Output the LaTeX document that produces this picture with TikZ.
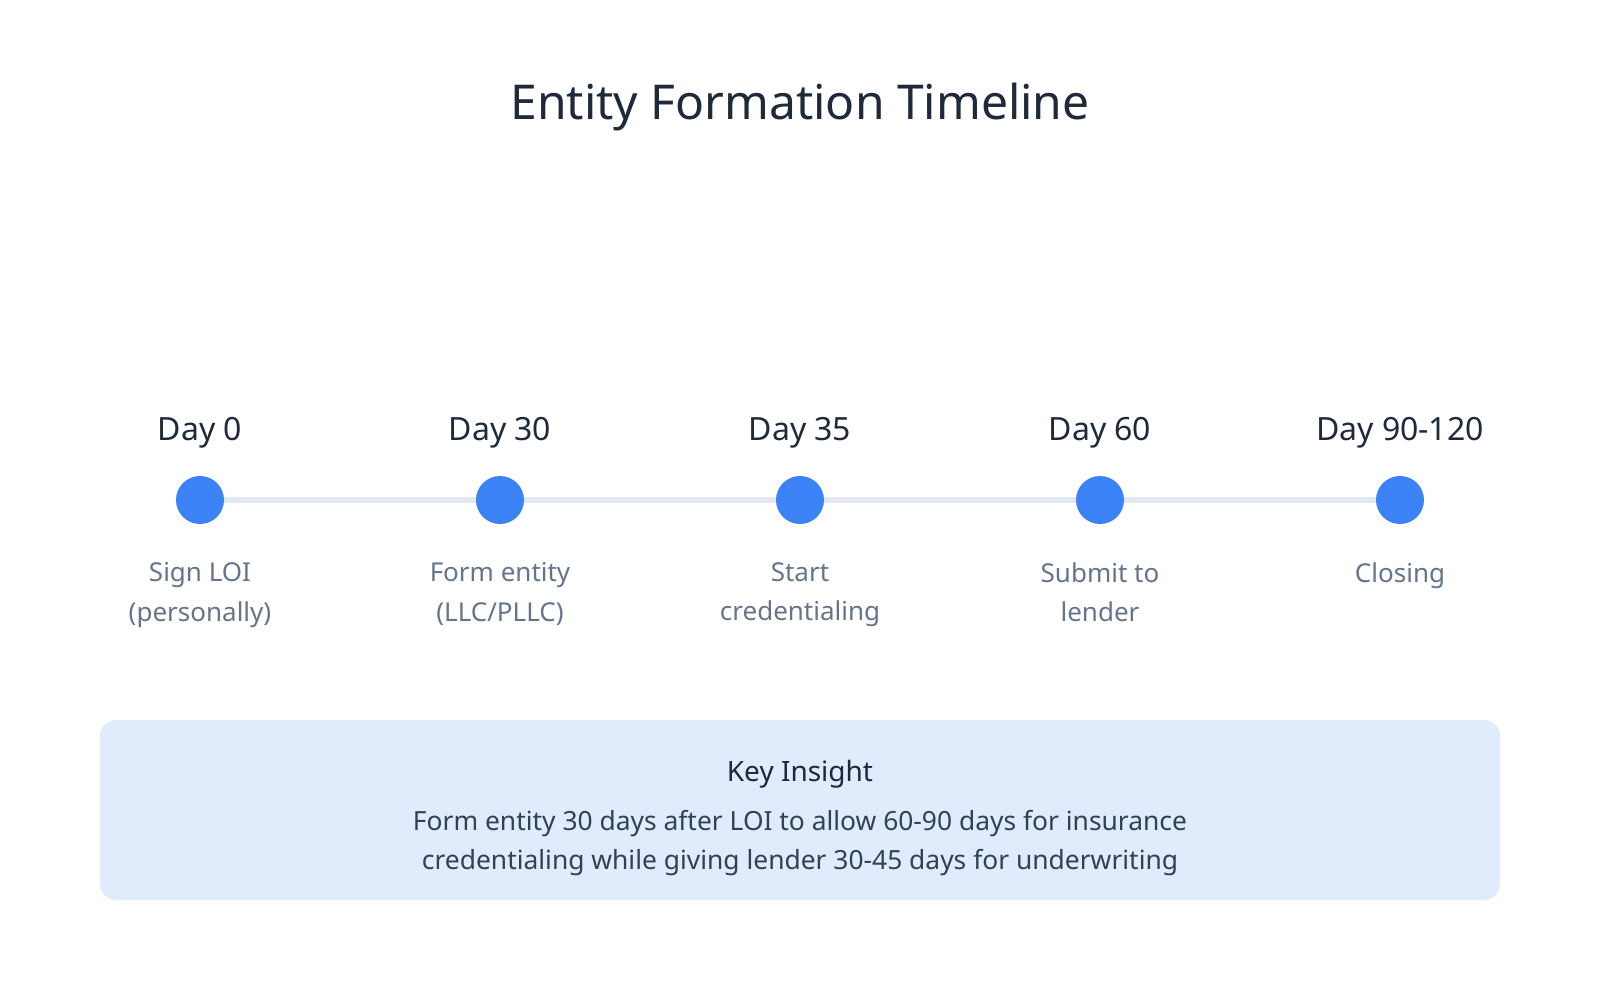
\documentclass[tikz,border=0pt]{standalone}
\usepackage{fontspec}
\setmainfont{Noto Sans}
\definecolor{titlec}{HTML}{1E293B}
\definecolor{dotc}{HTML}{3B82F6}
\definecolor{linec}{HTML}{E2E8F0}
\definecolor{subc}{HTML}{64748B}
\definecolor{boxc}{HTML}{E0EBFC}
\definecolor{bodyc}{HTML}{334155}
\begin{document}
\begin{tikzpicture}[x=0.75pt,y=-0.75pt,
  dot/.style={circle,fill=dotc,minimum size=36pt,inner sep=0pt},
  daylab/.style={font=\fontsize{24}{29}\selectfont,text=titlec},
  sublab/.style={font=\fontsize{19.5}{29.5}\selectfont,text=subc,align=center,anchor=north},
  track/.style={line width=4.5pt,draw=linec}]
\useasboundingbox (0,0) rectangle (1600,1000);
\node[font=\fontsize{36}{43}\selectfont,text=titlec] (title) at (800,107) {Entity Formation Timeline};
\foreach \i/\x/\d/\s in {0/200/Day 0/{Sign LOI\\(personally)},1/500/Day 30/{Form entity\\(LLC/PLLC)},2/800/Day 35/{Start\\credentialing},3/1100/Day 60/{Submit to\\lender},4/1400/Day 90-120/{Closing}}{
  \node[daylab] (d\i) at (\x,433) {\d};
  \node[sublab] (s\i) at (\x,558) {\s};
}
\draw[track] (200,500) -- (1400,500);
\foreach \i/\x in {0/200,1/500,2/800,3/1100,4/1400}{
  \node[dot] (c\i) at (\x,500) {};
}
\fill[boxc,rounded corners=12pt] (100,720) rectangle (1500,900);
\node[font=\fontsize{21}{25}\selectfont,text=titlec] (key) at (800,774) {Key Insight};
\node[font=\fontsize{19.8}{29.5}\selectfont,text=bodyc,align=center] (body) at (800,843) {Form entity 30 days after LOI to allow 60-90 days for insurance\\credentialing while giving lender 30-45 days for underwriting};
\end{tikzpicture}
\end{document}
